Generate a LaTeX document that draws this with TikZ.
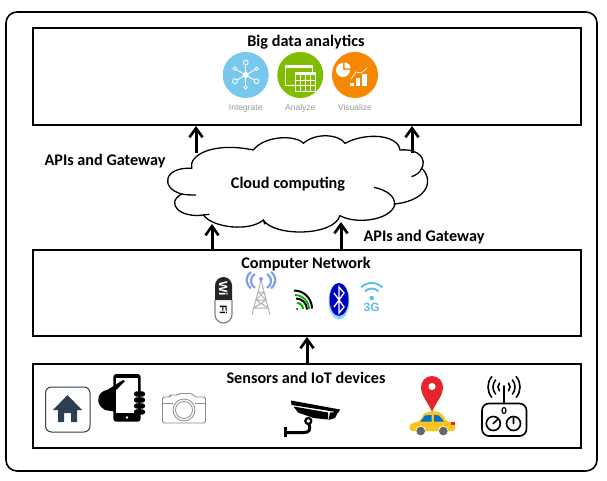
\documentclass[tikz,border=0pt]{standalone}
\usepackage{fontspec}
\setmainfont{Carlito}
\newfontfamily\iconfont{Liberation Sans}
\usetikzlibrary{arrows.meta,positioning}
\definecolor{skyblue}{RGB}{120,200,238}
\definecolor{leafgreen}{RGB}{128,188,0}
\definecolor{sunorange}{RGB}{245,136,0}
\definecolor{navyhome}{RGB}{44,62,80}
\definecolor{pinred}{RGB}{228,38,42}
\definecolor{caryellow}{RGB}{250,195,30}
\definecolor{wifiblue}{RGB}{90,190,235}
\definecolor{towerblue}{RGB}{130,160,230}

\begin{document}
\begin{tikzpicture}[x=1pt, y=-1pt,
  outerbox/.style={draw, line width=1.6pt, rounded corners=11pt, minimum width=591pt, minimum height=459pt},
  layer/.style={draw, line width=1.9pt, minimum width=548pt},
  title/.style={font=\fontsize{16.2}{18}\selectfont\bfseries, inner sep=1pt},
  ar/.style={line width=3pt, -{Straight Barb[length=3.2mm,width=4.6mm,line width=2.6pt]}},
  disc/.style={circle, minimum size=46pt, inner sep=0pt},
  iconlabel/.style={font=\iconfont\fontsize{8.5}{10}\selectfont, text=black!40, inner sep=0pt},
  wline/.style={white, line width=.9pt},
  ink/.style={line width=1.6pt, line cap=round}
]
\useasboundingbox (0,0) rectangle (607,481);
\node[outerbox] (outer) at (301.5,241.5) {};
\node[layer, minimum height=97pt] (big) at (307,76.5) {};
\node[layer, minimum height=86pt] (net) at (307,293) {};
\node[layer, minimum height=84pt] (dev) at (307,406) {};

\node[title, below=7pt of big.north, xshift=-1pt] (bigt) {Big data analytics};
\node[title, below=7pt of net.north, xshift=-1pt] (nett) {Computer Network};
\node[title, below=8pt of dev.north, xshift=-1pt] (devt) {Sensors and IoT devices};

% cloud outline
\begin{scope}[shift={(150,125)}, x=.3333pt, y=-.3333pt, line width=1.3pt]
\draw[fill=white] (125,130) .. controls (115,90) and (190,50) .. (310,75)
  .. controls (345,30) and (440,30) .. (460,55)
  .. controls (500,20) and (570,30) .. (585,55)
  .. controls (650,20) and (745,30) .. (750,75)
  .. controls (810,70) and (830,105) .. (815,130)
  .. controls (850,160) and (840,225) .. (735,237)
  .. controls (725,285) and (620,300) .. (570,272)
  .. controls (550,335) and (370,335) .. (340,285)
  .. controls (300,320) and (190,310) .. (160,270)
  .. controls (90,280) and (45,235) .. (95,207)
  .. controls (30,190) and (40,125) .. (125,130) -- cycle;
\draw (815,130) .. controls (810,142) and (800,150) .. (785,155);
\draw (672,187) .. controls (710,195) and (738,215) .. (733,240);
\draw (95,207) .. controls (110,210) and (125,210) .. (138,210);
\draw (160,270) -- (178,268);
\draw (340,285) -- (345,298);
\end{scope}
\node[title] (cloud) at (288,184) {Cloud computing};

\coordinate (cloudtl) at (196,153);
\coordinate (cloudtr) at (412,153);
\coordinate (cloudbl) at (212,224);
\coordinate (cloudbr) at (341,222);
\draw[ar] (cloudtl) -- (cloudtl |- big.south);
\draw[ar] (cloudtr) -- (cloudtr |- big.south);
\draw[ar] (cloudbl |- net.north) -- (cloudbl);
\draw[ar] (cloudbr |- net.north) -- (cloudbr);
\coordinate (netup) at (307,0);
\draw[ar] (netup |- dev.north) -- (netup |- net.south);

\node[title] (apil) at (105,161.5) {APIs and Gateway};
\node[title] (apir) at (424,237.5) {APIs and Gateway};

% analytics icons
\node[disc, fill=skyblue] (integ) at (245.7,75) {};
\node[disc, fill=leafgreen] (anal) at (300.3,75) {};
\node[disc, fill=sunorange] (visu) at (355,75) {};
\node[iconlabel, below=6pt of integ] (integc) {Integrate};
\node[iconlabel, below=6pt of anal] (analc) {Analyze};
\node[iconlabel, below=6pt of visu] (visuc) {Visualize};

\foreach \a in {30,90,150,210,270,330}
  \draw[wline] (integ.center) -- ++(\a:11pt);
\foreach \a/\s in {30/1.7,90/2.4,150/1.7,210/2.4,270/1.7,330/2.4}
  \draw[white, line width=.8pt, fill=skyblue] (integ.center) ++(\a:12.5pt) circle (\s pt);
\fill[white] (integ.center) circle (3pt);

\draw[wline] (285,65) rectangle (312,85);
\fill[white] (285,65) rectangle (312,68);
\draw[wline, fill=leafgreen] (295,72) rectangle (315,91);
\fill[white] (295,72) rectangle (315,75);
\foreach \u in {300,305,310} \draw[white, line width=.4pt] (\u,75) -- (\u,91);
\foreach \v in {80,85} \draw[white, line width=.4pt] (295,\v) -- (315,\v);

\fill[white] (343,70) -- ++(0:7pt) arc (0:-270:7pt) -- cycle;
\fill[white] (344.5,68.5) -- ++(90:6pt) arc (90:0:6pt) -- cycle;
\fill[white] (350,83) rectangle (354,86);
\fill[white] (356,78) rectangle (360,86);
\fill[white] (362,74) rectangle (367,86);
\draw[white, line width=.7pt] (351,79) -- (356,72) -- (361,73) -- (367,68);

% network icons
\fill[black!85] (223.5,285.5) circle (8.5pt) (215,285.5) rectangle (232,300);
\draw[black!50, line width=1.2pt] (215,300) -- (215,314.5) arc (180:360:8.5pt) -- (232,300);
\node[rotate=-90, text=white, inner sep=0pt, font=\iconfont\bfseries\fontsize{12}{12}\selectfont] (wi) at (223.5,289) {Wi};
\node[rotate=-90, inner sep=0pt, font=\iconfont\bfseries\fontsize{10}{10}\selectfont] (fi) at (223.5,310) {Fi};

\draw[black!30, line width=1pt] (261,280) -- (252,315) (261,280) -- (270,315)
  (258,292) -- (264,292) (256,300) -- (266,300) (254,308) -- (268,308)
  (258,292) -- (266,300) (264,292) -- (256,300) (256,300) -- (268,308) (266,300) -- (254,308);
\fill[towerblue] (261,279) circle (2pt);
\draw[towerblue, line width=2.2pt] (255,274) arc (120:240:8pt) (251,272) arc (125:235:10pt)
  (267,274) arc (60:-60:8pt) (271,272) arc (55:-55:10pt);

\fill[black] (297,309) circle (1pt);
\draw[green!70!black, line width=2pt] (297,303) arc (90:0:6pt);
\draw[black, line width=2pt] (296,298.5) arc (90:0:11pt);
\draw[green!70!black, line width=1.8pt] (295,295) arc (90:0:14pt);
\draw[black, line width=2pt] (294,290.5) arc (90:0:18pt);

\fill[cyan!45] (339,301) ellipse (10.5pt and 18.5pt);
\fill[blue!75!black] (339,299.5) ellipse (9.5pt and 16.5pt);
\draw[white, line width=1.3pt] (334,293) -- (344,307) -- (339,313) -- (339,287) -- (344,293) -- (334,307);

\draw[wifiblue, line width=1.9pt] (371.7,298) ++(135:15pt) arc (135:45:15pt)
  (371.7,298) ++(135:9.5pt) arc (135:45:9.5pt);
\fill[wifiblue] (371.7,298) circle (2.2pt);
\node[text=wifiblue, inner sep=0pt, font=\iconfont\bfseries\fontsize{12}{12}\selectfont] (threeg) at (371.7,307.5) {3G};

% device icons
\draw[navyhome, line width=1pt, rounded corners=6pt] (45.5,387) rectangle (90,432);
\fill[navyhome] (67.5,395) -- (82,410) -- (77,410) -- (77,422) -- (71,422) -- (71,413) -- (64,413) -- (64,422) -- (58,422) -- (58,410) -- (53,410) -- cycle;

\fill[rounded corners=3pt] (113.3,374) rectangle (140.7,421.7);
\fill[white] (116,378.3) rectangle (138,413.3);
\fill[white] (127,417.5) circle (1.4pt);
\fill (125,381) -- (115,391) -- (115,411.7) -- (105,410) .. controls (100,407) and (98,403) .. (98.3,400)
  .. controls (98,394) and (102,391) .. (108,389.5) -- (116.7,384) -- (123,380) -- cycle;
\foreach \v in {394,400,406,412}
  \fill[rounded corners=2.4pt] (134,\v-2.6) rectangle (145,\v+2.6);

\draw[black!45, line width=.8pt, rounded corners=1.5pt] (162.5,397) -- (170,397) -- (170,395) -- (178,395) -- (180,393.5) -- (192,393.5) -- (195,397) -- (205.5,397) -- (205.5,423) -- (162.5,423) -- cycle;
\draw[black!45, line width=.8pt] (162.5,403) -- (173,403) (195,403) -- (205.5,403);
\draw[black!45, fill=white, line width=.8pt] (184,410) circle (11pt) (184,410) circle (8.5pt);

\fill (291,400.5) -- (340,409.5) -- (338.5,412.5) -- (330,411) -- (291.5,405) -- cycle;
\fill (293.5,406.5) -- (328,412.5) -- (328,419.5) -- (313.5,418) -- (298,412.5) -- cycle;
\fill (330,412.5) -- (338,412) -- (335,418) -- (328.5,420) -- cycle;
\draw[line width=2.2pt] (308.3,421) circle (3pt);
\draw[line width=3pt] (309,424) .. controls (311,430) and (309,432.5) .. (304,432.5) -- (286,432.5);
\draw[line width=3pt] (285,427) -- (285,437);

\fill[pinred] (432,412) .. controls (428,402) and (421,396) .. (421,387) arc (180:0:11pt) .. controls (443,396) and (436,402) .. (432,412) -- cycle;
\fill[white] (432,386.5) circle (3.6pt);

\fill[caryellow, rounded corners=3pt] (409.5,431) -- (409.5,424) -- (421,420.5) .. controls (424,409) and (442,409) .. (445,420.5) -- (454.5,423) -- (455.5,431) -- cycle;
\fill[blue!45!cyan!80!black] (420.5,421.5) -- (425,415.5) -- (431.5,415) -- (431.5,421.5) -- cycle;
\fill[blue!45!cyan!80!black] (434,415) -- (439,415.5) -- (444,421.5) -- (434,421.5) -- cycle;
\fill[pinred] (451,421.5) rectangle (455,425);
\fill[black!60, draw=white, line width=.6pt] (420.7,431) circle (4.8pt) (443.3,431) circle (4.8pt);

\draw[ink, rounded corners=7pt] (482,403.5) rectangle (526.5,436);
\draw[ink] (504,403.5) -- (504,386);
\foreach \r in {6,11,16}
  \draw[ink] (504,387) ++(40:\r pt) arc (40:-40:\r pt)
    (504,387) ++(140:\r pt) arc (140:220:\r pt);
\draw[ink] (493.3,423.5) circle (7pt) (513.5,423.5) circle (7pt);
\draw[ink] (493.3,423.5) -- (498,419) (513.5,423.5) -- (513.5,418);
\draw[line width=1.2pt] (504,410.5) ellipse (2pt and 3pt);
\end{tikzpicture}
\end{document}
